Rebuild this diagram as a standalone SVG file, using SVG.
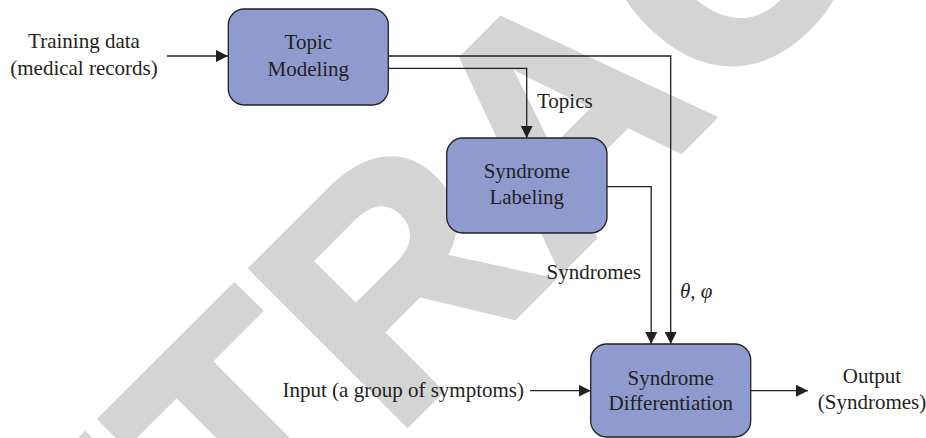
<svg xmlns="http://www.w3.org/2000/svg" width="926" height="438" viewBox="0 0 926 438">
  <style>
    .box { fill: #8f9bcf; stroke: #231f20; stroke-width: 1.3; }
    .t { font-family: "Liberation Serif", "Times New Roman", serif; font-size: 21px; fill: #231f20; }
    .c { text-anchor: middle; }
    .e { text-anchor: end; }
    .wire { fill: none; stroke: #231f20; stroke-width: 1.3; }
    .wm { font-family: "Liberation Sans", Arial, sans-serif; font-weight: bold; font-size: 320px; fill: #d4d4d4; stroke: #d4d4d4; stroke-width: 6; stroke-linejoin: miter; }
  </style>
  <defs>
    <marker id="arr" markerUnits="userSpaceOnUse" markerWidth="13" markerHeight="12" refX="12" refY="6" orient="auto">
      <path d="M0,0 L12,6 L0,12 Z" fill="#231f20"/>
    </marker>
  </defs>
  <rect width="926" height="438" fill="#ffffff"/>
  <g id="watermark">
    <text class="wm" transform="rotate(-45)" x="-673" y="588">RETRACTED</text>
  </g>
  <g id="connectors">
    <path class="wire" d="M167,56 H228" marker-end="url(#arr)"/>
    <path class="wire" d="M388,56 H670.7 V344" marker-end="url(#arr)"/>
    <path class="wire" d="M388,68.3 H526.7 V138" marker-end="url(#arr)"/>
    <path class="wire" d="M607,186.7 H651.2 V344" marker-end="url(#arr)"/>
    <path class="wire" d="M530,390.7 H590.7" marker-end="url(#arr)"/>
    <path class="wire" d="M750.7,390.7 H808" marker-end="url(#arr)"/>
  </g>
  <g id="topic-modeling">
    <rect class="box" x="228.3" y="9" width="160" height="96" rx="16"/>
    <text class="t c" x="308.3" y="49">Topic</text>
    <text class="t c" x="308.3" y="76">Modeling</text>
  </g>
  <g id="syndrome-labeling">
    <rect class="box" x="446.7" y="138" width="160.3" height="95" rx="16"/>
    <text class="t c" x="526.8" y="178">Syndrome</text>
    <text class="t c" x="526.8" y="204">Labeling</text>
  </g>
  <g id="syndrome-differentiation">
    <rect class="box" x="590.7" y="344" width="160" height="93" rx="16"/>
    <text class="t c" x="670.7" y="385">Syndrome</text>
    <text class="t c" x="670.7" y="410">Differentiation</text>
  </g>
  <g id="training-data">
    <text class="t c" x="84" y="48">Training data</text>
    <text class="t c" x="84" y="75">(medical records)</text>
  </g>
  <g id="labels">
    <text class="t" x="537" y="108">Topics</text>
    <text class="t e" x="641" y="279">Syndromes</text>
    <text class="t" x="680" y="298" font-style="italic">θ, φ</text>
  </g>
  <g id="input">
    <text class="t e" x="524" y="397">Input (a group of symptoms)</text>
  </g>
  <g id="output">
    <text class="t c" x="872" y="383">Output</text>
    <text class="t c" x="872" y="409">(Syndromes)</text>
  </g>
</svg>
